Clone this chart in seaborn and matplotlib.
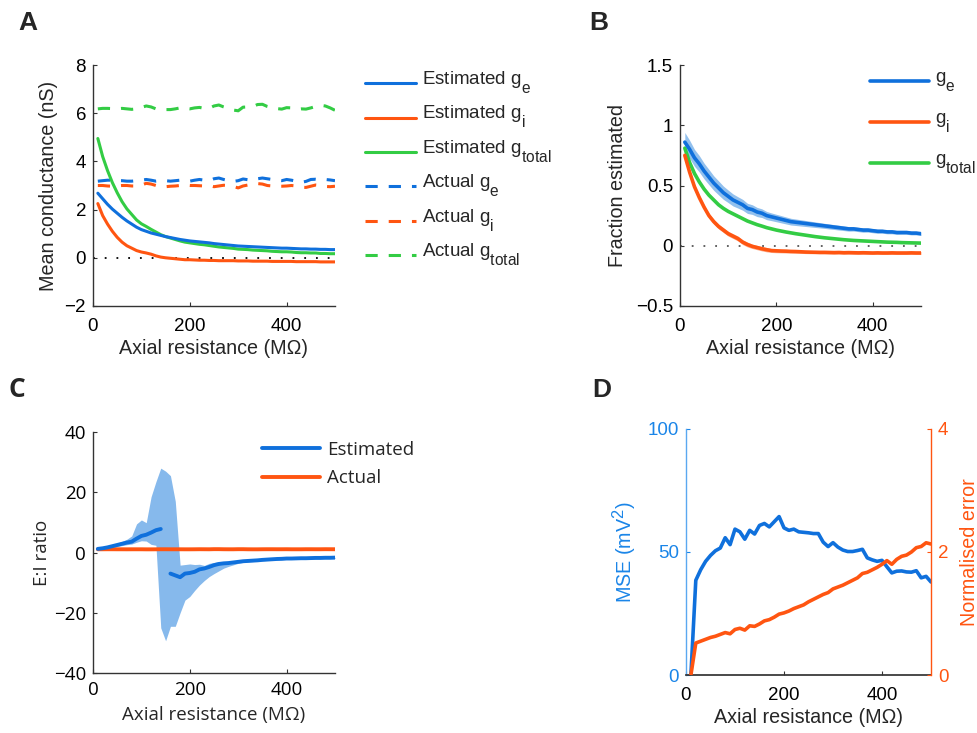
import numpy as np
import pandas as pd
import matplotlib
matplotlib.use("Agg")
import matplotlib.pyplot as plt
import seaborn as sns
from matplotlib.ticker import FuncFormatter
from matplotlib.lines import Line2D
from matplotlib.legend_handler import HandlerLine2D

try:
    import matplotlib._mathtext as _mt
    _mt.SHRINK_FACTOR = 0.83
    _mt.FontConstantsBase.sub1 = 0.9
except Exception:
    pass

# ---------------- data ----------------
axial_res = list(range(10, 510, 10))  # MOhm, 50 points

# Panel A: mean conductance (nS)
est_ge = [2.68, 2.45, 2.22, 2.02, 1.85, 1.68, 1.53, 1.40, 1.27, 1.17,
          1.10, 1.03, 0.98, 0.93, 0.88, 0.84, 0.80, 0.76, 0.73, 0.70,
          0.68, 0.66, 0.64, 0.62, 0.59, 0.57, 0.55, 0.53, 0.51, 0.49,
          0.48, 0.47, 0.46, 0.45, 0.44, 0.43, 0.42, 0.41, 0.40, 0.40,
          0.39, 0.38, 0.37, 0.37, 0.36, 0.36, 0.35, 0.35, 0.34, 0.34]
est_gi = [2.25, 1.75, 1.40, 1.10, 0.85, 0.65, 0.50, 0.40, 0.30, 0.24,
          0.20, 0.15, 0.08, 0.03, 0.00, -0.02, -0.04, -0.06, -0.08, -0.08,
          -0.09, -0.10, -0.10, -0.11, -0.11, -0.12, -0.12, -0.12, -0.12, -0.13,
          -0.13, -0.13, -0.14, -0.14, -0.14, -0.14, -0.15, -0.15, -0.15, -0.15,
          -0.15, -0.16, -0.16, -0.16, -0.16, -0.16, -0.17, -0.17, -0.17, -0.17]
est_gtot = [4.95, 4.20, 3.62, 3.12, 2.70, 2.33, 2.03, 1.80, 1.57, 1.41,
            1.30, 1.18, 1.07, 0.96, 0.88, 0.82, 0.76, 0.70, 0.65, 0.62,
            0.59, 0.56, 0.54, 0.51, 0.48, 0.45, 0.43, 0.41, 0.39, 0.36,
            0.35, 0.34, 0.32, 0.31, 0.30, 0.29, 0.27, 0.26, 0.25, 0.25,
            0.24, 0.22, 0.21, 0.21, 0.20, 0.20, 0.18, 0.18, 0.17, 0.17]
act_ge = [3.18, 3.20, 3.22, 3.22, 3.20, 3.20, 3.18, 3.18, 3.20, 3.22,
          3.25, 3.22, 3.18, 3.20, 3.20, 3.18, 3.20, 3.22, 3.20, 3.18,
          3.22, 3.25, 3.22, 3.20, 3.28, 3.31, 3.25, 3.20, 3.17, 3.20,
          3.27, 3.24, 3.22, 3.28, 3.31, 3.28, 3.25, 3.22, 3.20, 3.25,
          3.22, 3.18, 3.13, 3.17, 3.25, 3.26, 3.24, 3.25, 3.23, 3.20]
act_gi = [3.00, 3.00, 2.98, 2.97, 2.98, 3.00, 3.00, 2.98, 2.98, 3.02,
          3.09, 3.06, 3.00, 2.96, 2.95, 2.97, 2.98, 3.00, 3.02, 3.00,
          3.00, 2.99, 2.98, 3.00, 2.95, 2.98, 3.01, 3.00, 2.96, 2.90,
          2.98, 3.02, 3.05, 3.08, 3.06, 3.00, 2.98, 2.97, 2.97, 2.98,
          3.00, 2.98, 2.93, 2.92, 2.97, 3.02, 3.00, 2.96, 2.95, 2.97]
act_gtot = [6.18, 6.20, 6.20, 6.19, 6.18, 6.20, 6.18, 6.16, 6.18, 6.24,
            6.30, 6.26, 6.18, 6.16, 6.15, 6.15, 6.18, 6.22, 6.20, 6.18,
            6.22, 6.24, 6.20, 6.20, 6.30, 6.34, 6.26, 6.20, 6.13, 6.10,
            6.25, 6.26, 6.27, 6.36, 6.37, 6.28, 6.23, 6.19, 6.17, 6.23,
            6.22, 6.16, 6.18, 6.17, 6.22, 6.28, 6.33, 6.30, 6.22, 6.12]

# Panel B: fraction estimated (mean and spread)
frac_ge = [0.86, 0.80, 0.73, 0.68, 0.62, 0.57, 0.52, 0.48, 0.44, 0.41,
           0.38, 0.36, 0.34, 0.31, 0.30, 0.28, 0.27, 0.25, 0.24, 0.23,
           0.22, 0.21, 0.20, 0.195, 0.19, 0.185, 0.18, 0.175, 0.17, 0.165,
           0.16, 0.155, 0.15, 0.145, 0.14, 0.14, 0.135, 0.13, 0.13, 0.125,
           0.12, 0.12, 0.115, 0.115, 0.11, 0.11, 0.11, 0.105, 0.105, 0.10]
frac_ge_sd = [0.08, 0.075, 0.07, 0.068, 0.065, 0.063, 0.06, 0.058, 0.055, 0.052,
              0.05, 0.047, 0.045, 0.042, 0.04, 0.038, 0.036, 0.034, 0.032, 0.031,
              0.03, 0.029, 0.028, 0.027, 0.026, 0.025, 0.024, 0.023, 0.022, 0.021,
              0.021, 0.02, 0.02, 0.019, 0.019, 0.018, 0.018, 0.018, 0.017, 0.017,
              0.017, 0.016, 0.016, 0.016, 0.016, 0.015, 0.015, 0.015, 0.015, 0.015]
frac_gi = [0.75, 0.61, 0.49, 0.40, 0.32, 0.25, 0.20, 0.16, 0.13, 0.10,
           0.08, 0.06, 0.03, 0.01, -0.005, -0.015, -0.025, -0.033, -0.04, -0.042,
           -0.044, -0.045, -0.047, -0.048, -0.05, -0.052, -0.053, -0.054, -0.055, -0.055,
           -0.056, -0.057, -0.056, -0.058, -0.057, -0.058, -0.059, -0.058, -0.059, -0.06,
           -0.059, -0.06, -0.06, -0.059, -0.06, -0.06, -0.06, -0.059, -0.06, -0.06]
frac_gi_sd = [0.02, 0.02, 0.02, 0.02, 0.02, 0.02, 0.02, 0.02, 0.02, 0.02,
              0.02, 0.02, 0.02, 0.02, 0.018, 0.018, 0.018, 0.018, 0.016, 0.016,
              0.015, 0.015, 0.014, 0.014, 0.013, 0.013, 0.013, 0.012, 0.012, 0.012,
              0.012, 0.012, 0.012, 0.012, 0.012, 0.012, 0.012, 0.012, 0.012, 0.012,
              0.012, 0.012, 0.012, 0.012, 0.012, 0.012, 0.012, 0.012, 0.012, 0.012]
frac_gtot = [0.81, 0.69, 0.60, 0.53, 0.47, 0.42, 0.38, 0.34, 0.31, 0.285,
             0.265, 0.245, 0.225, 0.205, 0.19, 0.175, 0.163, 0.15, 0.14, 0.13,
             0.122, 0.114, 0.107, 0.10, 0.094, 0.088, 0.082, 0.076, 0.071, 0.066,
             0.062, 0.058, 0.054, 0.050, 0.047, 0.044, 0.042, 0.040, 0.038, 0.036,
             0.034, 0.032, 0.030, 0.029, 0.028, 0.026, 0.025, 0.024, 0.023, 0.022]

# Panel C: E:I ratio
ratio_est = [1.2, 1.4, 1.7, 2.1, 2.5, 2.9, 3.3, 3.6, 4.6, 5.5,
             5.9, 6.6, 7.4, 7.8, np.nan, -7.0, -7.6, -8.2, -7.0, -6.8,
             -6.4, -5.6, -5.3, -4.8, -4.2, -3.8, -3.6, -3.5, -3.3, -3.1,
             -2.9, -2.8, -2.7, -2.6, -2.45, -2.35, -2.25, -2.15, -2.1, -2.0,
             -2.0, -1.95, -1.9, -1.9, -1.85, -1.8, -1.8, -1.75, -1.75, -1.7]
ratio_upper = [1.4, 1.7, 2.1, 2.6, 3.1, 3.7, 4.4, 5.5, 9.5, 10.8,
               9.9, 18.5, 23.5, 28.0, 27.0, 25.5, 17.0, -4.2, -4.0, -3.8,
               -4.0, -3.9, -4.3, -3.6, -3.3, -3.1, -3.2, -3.4, -3.0, -2.8,
               -2.7, -2.6, -2.5, -2.4, -2.3, -2.2, -2.1, -2.0, -2.0, -1.9,
               -1.9, -1.8, -1.8, -1.8, -1.7, -1.7, -1.7, -1.6, -1.6, -1.6]
ratio_lower = [1.0, 1.2, 1.4, 1.7, 2.0, 2.3, 2.6, 2.8, 3.4, 3.9,
               3.8, 2.7, 2.4, -25.0, -29.3, -24.5, -24.5, -20.0, -15.8, -14.6,
               -12.6, -10.8, -9.3, -8.0, -7.0, -6.1, -5.2, -4.6, -4.1, -3.6,
               -3.3, -3.1, -3.0, -2.9, -2.75, -2.65, -2.55, -2.45, -2.4, -2.3,
               -2.3, -2.25, -2.2, -2.2, -2.15, -2.1, -2.1, -2.05, -2.05, -2.0]
ratio_act = [1.07, 1.07, 1.08, 1.08, 1.07, 1.07, 1.06, 1.07, 1.07, 1.07,
             1.05, 1.05, 1.06, 1.08, 1.08, 1.07, 1.07, 1.07, 1.06, 1.06,
             1.07, 1.09, 1.08, 1.07, 1.11, 1.11, 1.08, 1.07, 1.07, 1.10,
             1.10, 1.07, 1.06, 1.06, 1.08, 1.09, 1.09, 1.08, 1.08, 1.09,
             1.07, 1.07, 1.07, 1.09, 1.09, 1.08, 1.08, 1.10, 1.09, 1.08]

# Panel D: MSE (mV^2) and normalised error
mse = [0.0, 38.5, 42.8, 46.2, 48.6, 50.5, 51.6, 55.8, 53.0, 59.3,
       58.2, 55.2, 58.8, 57.3, 60.8, 61.6, 60.2, 62.3, 64.4, 59.8,
       58.8, 59.3, 58.2, 58.0, 57.8, 57.5, 57.5, 54.0, 52.2, 53.8,
       52.0, 50.8, 50.2, 50.2, 50.6, 51.1, 47.6, 46.8, 46.2, 46.6,
       44.0, 41.5, 42.2, 42.3, 41.9, 41.8, 42.4, 39.5, 40.1, 37.8]
norm_err = [0.0, 0.52, 0.55, 0.58, 0.61, 0.63, 0.66, 0.69, 0.67, 0.74,
            0.76, 0.73, 0.80, 0.79, 0.83, 0.88, 0.90, 0.94, 0.99, 1.01,
            1.04, 1.08, 1.11, 1.14, 1.19, 1.23, 1.27, 1.31, 1.34, 1.40,
            1.43, 1.46, 1.50, 1.54, 1.58, 1.65, 1.67, 1.71, 1.75, 1.80,
            1.86, 1.80, 1.88, 1.93, 1.95, 2.00, 2.07, 2.09, 2.15, 2.13]

# ---------------- style ----------------
BLUE = "#0f70dc"
ORANGE = "#ff5511"
GREEN = "#33cc44"
BAND_BLUE = "#86b9ec"
BAND_ORANGE = "#ff9a70"
D_BLUE = "#1a85e8"
SPINE = "#333333"

sns.set_theme(style="ticks")
plt.rcParams["font.family"] = ["Liberation Sans", "DejaVu Sans"]
plt.rcParams["mathtext.fontset"] = "custom"
plt.rcParams["mathtext.rm"] = "Liberation Sans"
plt.rcParams["mathtext.it"] = "Liberation Sans:italic"
plt.rcParams["mathtext.bf"] = "Liberation Sans:bold"
plt.rcParams["axes.unicode_minus"] = True

FS = 13.5      # tick labels / legend
FSL = 14.2     # axis labels
W, H = 978, 733
fig = plt.figure(figsize=(W / 100, H / 100), dpi=100)


class LowHandler(HandlerLine2D):
    """Legend line drawn nearer the text baseline (MATLAB-like)."""

    def __init__(self, dy=0.0, **kw):
        super().__init__(**kw)
        self.dy = dy

    def create_artists(self, legend, orig_handle, xdescent, ydescent, width,
                       height, fontsize, trans):
        arts = super().create_artists(legend, orig_handle, xdescent, ydescent,
                                      width, height, fontsize, trans)
        for a in arts:
            if isinstance(a, Line2D):
                a.set_ydata(np.asarray(a.get_ydata(), dtype=float) - self.dy * fontsize)
        return arts


def px_axes(left, right, top, bottom):
    return fig.add_axes([left / W, 1 - bottom / H, (right - left) / W, (bottom - top) / H])


fmt = FuncFormatter(lambda v, p: f"{v:g}".replace("-", "\u2212"))


def style_axes(ax, fontsize=FS, family=None):
    sns.despine(ax=ax)
    for s in ("left", "bottom"):
        ax.spines[s].set_color(SPINE)
        ax.spines[s].set_linewidth(1.0)
    ax.tick_params(direction="in", length=3, width=0.8, colors=SPINE,
                   labelsize=fontsize, labelcolor="black")
    ax.tick_params(axis="x", pad=8.5)
    ax.tick_params(axis="y", pad=5)
    ax.yaxis.set_major_formatter(fmt)
    ax.xaxis.set_major_formatter(fmt)
    if family:
        for lab in ax.get_xticklabels() + ax.get_yticklabels():
            lab.set_family(family)


def df_of(**cols):
    return pd.DataFrame(cols)


# ================= Panel A =================
axA = px_axes(93, 335, 65, 306)
dA = df_of(x=axial_res, est_ge=est_ge, est_gi=est_gi, est_gtot=est_gtot,
           act_ge=act_ge, act_gi=act_gi, act_gtot=act_gtot)
dash = (0, (4.0, 3.6))
axA.axhline(0, color="black", ls=(0, (1, 5.5)), lw=1.3, zorder=1)
sns.lineplot(data=dA, x="x", y="act_gtot", ax=axA, color=GREEN, lw=2.2, ls=dash)
sns.lineplot(data=dA, x="x", y="act_ge", ax=axA, color=BLUE, lw=2.2, ls=dash)
sns.lineplot(data=dA, x="x", y="act_gi", ax=axA, color=ORANGE, lw=2.2, ls=dash)
sns.lineplot(data=dA, x="x", y="est_gi", ax=axA, color=ORANGE, lw=2.2)
sns.lineplot(data=dA, x="x", y="est_gtot", ax=axA, color=GREEN, lw=2.2)
sns.lineplot(data=dA, x="x", y="est_ge", ax=axA, color=BLUE, lw=2.2)
axA.set_xlim(0, 500)
axA.set_ylim(-2, 8)
axA.set_xticks([0, 200, 400])
axA.set_yticks([-2, 0, 2, 4, 6, 8])
style_axes(axA)
axA.set_xlabel("Axial resistance (M\u03a9)", fontsize=FSL, labelpad=3)
axA.set_ylabel("Mean conductance (nS)", fontsize=FSL, labelpad=5)

hA = [Line2D([], [], color=BLUE, lw=2.2), Line2D([], [], color=ORANGE, lw=2.2),
      Line2D([], [], color=GREEN, lw=2.2), Line2D([], [], color=BLUE, lw=2.2, ls=dash),
      Line2D([], [], color=ORANGE, lw=2.2, ls=dash), Line2D([], [], color=GREEN, lw=2.2, ls=dash)]
lA = ["Estimated g$_\\mathregular{e}$", "Estimated g$_\\mathregular{i}$",
      "Estimated g$_\\mathregular{total}$", "Actual g$_\\mathregular{e}$",
      "Actual g$_\\mathregular{i}$", "Actual g$_\\mathregular{total}$"]
fig.legend(hA, lA, loc="upper left", bbox_to_anchor=(365 / W, 1 - 69 / H),
           frameon=False, fontsize=FS, handlelength=2.72, handletextpad=0.32,
           labelspacing=0.45, borderpad=0, borderaxespad=0,
           handler_map={Line2D: LowHandler(0.3)})

# ================= Panel B =================
axB = px_axes(680, 921, 65, 306)
dB = df_of(x=axial_res, ge=frac_ge, gi=frac_gi, gt=frac_gtot)
axB.axhline(0, color="#555555", ls=(0, (1, 5.5)), lw=1.3, zorder=1)
axB.fill_between(axial_res, np.array(frac_ge) - np.array(frac_ge_sd),
                 np.array(frac_ge) + np.array(frac_ge_sd), color=BAND_BLUE, lw=0, alpha=0.9)
axB.fill_between(axial_res, np.array(frac_gi) - np.array(frac_gi_sd),
                 np.array(frac_gi) + np.array(frac_gi_sd), color=BAND_ORANGE, lw=0, alpha=0.8)
sns.lineplot(data=dB, x="x", y="gt", ax=axB, color=GREEN, lw=2.6)
sns.lineplot(data=dB, x="x", y="gi", ax=axB, color=ORANGE, lw=2.6)
sns.lineplot(data=dB, x="x", y="ge", ax=axB, color=BLUE, lw=2.6)
axB.set_xlim(0, 500)
axB.set_ylim(-0.5, 1.5)
axB.set_xticks([0, 200, 400])
axB.set_yticks([-0.5, 0, 0.5, 1, 1.5])
style_axes(axB)
axB.set_xlabel("Axial resistance (M\u03a9)", fontsize=FSL, labelpad=3)
axB.set_ylabel("Fraction estimated", fontsize=FSL, labelpad=6)
hB = [Line2D([], [], color=BLUE, lw=2.6), Line2D([], [], color=ORANGE, lw=2.6),
      Line2D([], [], color=GREEN, lw=2.6)]
lB = ["g$_\\mathregular{e}$", "g$_\\mathregular{i}$", "g$_\\mathregular{total}$"]
fig.legend(hB, lB, loc="upper left", bbox_to_anchor=(870 / W, 1 - 68.5 / H),
           frameon=False, fontsize=FS, handlelength=3.15, handletextpad=0.32,
           labelspacing=0.91, borderpad=0, borderaxespad=0,
           handler_map={Line2D: LowHandler(0.3)})

# ================= Panel C =================
CF = ["Open Sans", "DejaVu Sans"]
FSC = 13.5
axC = px_axes(93, 335, 432, 673)
seg = ["a" if x < 150 else "b" for x in axial_res]
dC = df_of(x=axial_res, est=ratio_est, act=ratio_act, seg=seg)
axC.fill_between(axial_res, ratio_lower, ratio_upper, color=BAND_BLUE, lw=0)
sns.lineplot(data=dC, x="x", y="act", ax=axC, color=ORANGE, lw=2.8)
sns.lineplot(data=dC.dropna(), x="x", y="est", units="seg", estimator=None,
             ax=axC, color=BLUE, lw=2.8)
axC.set_xlim(0, 500)
axC.set_ylim(-40, 40)
axC.set_xticks([0, 200, 400])
axC.set_yticks([-40, -20, 0, 20, 40])
style_axes(axC, fontsize=FSC, family=CF)
axC.tick_params(axis="x", pad=6)
axC.set_xlabel("Axial resistance (M\u03a9)", fontsize=FSC, family=CF, labelpad=5)
axC.set_ylabel("E:I ratio", fontsize=FSC, family=CF, labelpad=2)
hC = [Line2D([], [], color=BLUE, lw=2.8), Line2D([], [], color=ORANGE, lw=2.8)]
fig.legend(hC, ["Estimated", "Actual"], loc="upper left",
           bbox_to_anchor=(262 / W, 1 - 441 / H), frameon=False,
           prop={"family": CF, "size": FSC}, handlelength=3.1, handletextpad=0.35,
           labelspacing=0.55, borderpad=0, borderaxespad=0)

# ================= Panel D =================
axD = px_axes(686, 931, 429, 675)
axD2 = axD.twinx()
dD = df_of(x=axial_res, mse=mse, err=norm_err)
sns.lineplot(data=dD, x="x", y="mse", ax=axD, color=BLUE, lw=2.6)
sns.lineplot(data=dD, x="x", y="err", ax=axD2, color=ORANGE, lw=2.6)
axD.set_xlim(0, 500)
axD.set_ylim(0, 100)
axD2.set_ylim(0, 4)
axD.set_xticks([0, 200, 400])
axD.set_yticks([0, 50, 100])
axD2.set_yticks([0, 2, 4])
for a in (axD, axD2):
    a.spines["top"].set_visible(False)
axD.spines["right"].set_visible(False)
axD2.spines["left"].set_visible(False)
axD2.spines["bottom"].set_visible(False)
axD.spines["left"].set_color("#5aa8f0")
axD.spines["left"].set_linewidth(1.0)
axD.spines["bottom"].set_color(SPINE)
axD2.spines["right"].set_color(ORANGE)
axD2.spines["right"].set_linewidth(1.0)
axD.tick_params(axis="x", direction="in", length=3, width=0.8, colors=SPINE,
                labelcolor="black", labelsize=FS, pad=8.5)
axD.tick_params(axis="y", direction="in", length=3, width=0.8, colors=D_BLUE,
                labelcolor=D_BLUE, labelsize=FS, pad=5)
axD2.tick_params(axis="y", direction="in", length=3, width=0.8, colors=ORANGE,
                 labelcolor=ORANGE, labelsize=FS, pad=5)
axD.xaxis.set_major_formatter(fmt)
axD.set_xlabel("Axial resistance (M\u03a9)", fontsize=FSL, labelpad=3)
axD.set_ylabel("MSE (mV$^\\mathregular{2}$)", fontsize=FSL, color=D_BLUE, labelpad=6.5)
axD2.set_ylabel("Normalised error", fontsize=FSL, color=ORANGE, labelpad=8)

# ================= panel letters =================
fig.text(28 / W, 1 - 23 / H, "A", fontsize=19, fontweight="bold", ha="center", va="center")
fig.text(599 / W, 1 - 23 / H, "B", fontsize=19, fontweight="bold", ha="center", va="center")
fig.text(17 / W, 1 - 389 / H, "C", fontsize=19, fontweight="bold", ha="center", va="center",
         family=CF)
fig.text(602 / W, 1 - 390 / H, "D", fontsize=19, fontweight="bold", ha="center", va="center")

fig.savefig("out.png", dpi=100)
